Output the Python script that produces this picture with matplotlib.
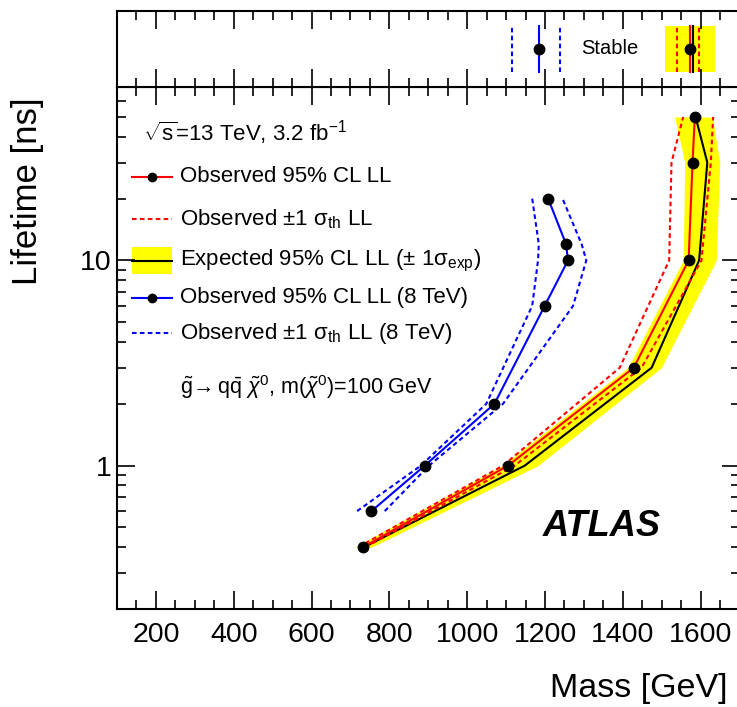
import matplotlib
matplotlib.use('Agg')
import matplotlib.pyplot as plt
from matplotlib.ticker import MultipleLocator, FixedLocator, FixedFormatter, NullFormatter
import numpy as np

plt.rcParams['font.family'] = ['Liberation Sans', 'DejaVu Sans']
plt.rcParams['mathtext.fontset'] = 'custom'
plt.rcParams['mathtext.rm'] = 'Liberation Sans'
plt.rcParams['mathtext.it'] = 'Liberation Sans:italic'
plt.rcParams['mathtext.bf'] = 'Liberation Sans:bold'

# ---- 13 TeV, 3.2 fb-1 ----
life = [0.4, 1, 3, 10, 30, 50]
obs_mass = [732, 1105, 1428, 1569, 1579, 1585]
obs_dn_mass = [720, 1092, 1392, 1519, 1525, 1555]
obs_up_mass = [738, 1122, 1448, 1602, 1626, 1632]
exp_mass = [734, 1148, 1474, 1596, 1617, 1587]
exp_lo_mass = [711, 1090, 1413, 1555, 1559, 1533]
exp_hi_mass = [754, 1182, 1499, 1640, 1649, 1630]

# ---- 8 TeV ----
life8 = [0.6, 1, 2, 6, 10, 12, 20]
obs8_mass = [754, 891, 1070, 1199, 1259, 1254, 1208]
obs8_dn_mass = [717, 881, 1049, 1167, 1182, 1184, 1167]
obs8_up_mass = [788, 902, 1092, 1272, 1306, 1294, 1245]

# ---- stable limits (top panel) ----
stable_obs = 1572
stable_obs_dn = 1539
stable_obs_up = 1596
stable_exp = 1580
stable_exp_lo = 1508
stable_exp_hi = 1636
stable_obs8 = 1185
stable_obs8_dn = 1114
stable_obs8_up = 1238

xticks = [200, 400, 600, 800, 1000, 1200, 1400, 1600]

W, H = 737, 707
fig = plt.figure(figsize=(W / 100, H / 100), dpi=100)

left, right = 117 / W, 739.6 / W
ax = fig.add_axes([left, 1 - 609 / H, right - left, (609 - 87) / H])
axt = fig.add_axes([left, 1 - 87 / H, right - left, (87 - 11) / H])

yellow = '#ffff00'
red = '#ff0000'
blue = '#0000ff'
dash = (0, (2.2, 1.6))
lw = 1.5

# main panel
ax.fill_betweenx(life, exp_lo_mass, exp_hi_mass, color=yellow, lw=0, zorder=1)
ax.plot(exp_mass, life, color='black', lw=lw, zorder=2)
ax.plot(obs_dn_mass, life, color=red, lw=lw, ls=dash, zorder=3)
ax.plot(obs_up_mass, life, color=red, lw=lw, ls=dash, zorder=3)
ax.plot(obs_mass, life, color=red, lw=lw, zorder=4)
ax.plot(obs_mass, life, 'o', color='black', ms=7.5, zorder=5)

ax.plot(obs8_dn_mass, life8, color=blue, lw=lw, ls=dash, zorder=3)
ax.plot(obs8_up_mass, life8, color=blue, lw=lw, ls=dash, zorder=3)
ax.plot(obs8_mass, life8, color=blue, lw=lw, zorder=4)
ax.plot(obs8_mass, life8, 'o', color='black', ms=7.5, zorder=5)

ax.set_xlim(100, 1700)
ax.set_yscale('log')
ax.set_ylim(0.2, 70)

ax.xaxis.set_major_locator(FixedLocator(xticks))
ax.xaxis.set_minor_locator(MultipleLocator(50))
ax.yaxis.set_major_locator(FixedLocator([1, 10]))
ax.yaxis.set_major_formatter(FixedFormatter(['1', '10']))
minors = [v * d for d in (0.1, 1, 10) for v in range(2, 10)]
ax.yaxis.set_minor_locator(FixedLocator(minors))
ax.yaxis.set_minor_formatter(NullFormatter())

ax.tick_params(which='both', direction='in', top=True, right=True, width=1.2)
ax.tick_params(which='major', length=13, labelsize=20.5)
ax.tick_params(which='minor', length=6.5)
ax.tick_params(axis='x', pad=9)
ax.tick_params(axis='y', pad=4)
for s in ax.spines.values():
    s.set_linewidth(1.5)

# top panel (stable)
axt.set_xlim(100, 1700)
axt.set_ylim(0, 1)
axt.axvspan(stable_exp_lo, stable_exp_hi, ymin=0.2, ymax=0.8, color=yellow, lw=0)
axt.axvline(stable_exp, ymin=0.2, ymax=0.8, color='black', lw=lw)
axt.axvline(stable_obs_dn, ymin=0.2, ymax=0.8, color=red, lw=lw, ls=dash)
axt.axvline(stable_obs_up, ymin=0.2, ymax=0.8, color=red, lw=lw, ls=dash)
axt.axvline(stable_obs, ymin=0.2, ymax=0.8, color=red, lw=lw)
axt.plot([stable_obs], [0.5], 'o', color='black', ms=7.5)
axt.axvline(stable_obs8_dn, ymin=0.2, ymax=0.8, color=blue, lw=lw, ls=dash)
axt.axvline(stable_obs8_up, ymin=0.2, ymax=0.8, color=blue, lw=lw, ls=dash)
axt.axvline(stable_obs8, ymin=0.2, ymax=0.8, color=blue, lw=lw)
axt.plot([stable_obs8], [0.5], 'o', color='black', ms=7.5)
axt.text(1366, 0.5, 'Stable', fontsize=14.5, ha='center', va='center')

axt.xaxis.set_major_locator(FixedLocator(xticks))
axt.xaxis.set_minor_locator(MultipleLocator(50))
axt.set_yticks([])
axt.tick_params(which='both', direction='in', top=True, bottom=True,
                labelbottom=False, width=1.2)
axt.tick_params(which='major', length=13)
axt.tick_params(which='minor', length=6.5)
for s in axt.spines.values():
    s.set_linewidth(1.5)

# axis titles
fig.text(727 / W, 1 - 688 / H, 'Mass [GeV]', fontsize=24.5, ha='right', va='center')
fig.text(28 / W, 1 - 97 / H, 'Lifetime [ns]', fontsize=25, rotation=90,
         ha='center', va='top')

# legend drawn by hand in axes coordinates
def fx(px):
    return (px - 117) / (739.6 - 117)

def fy(py):
    return (609 - py) / (609 - 87)

tr = ax.transAxes
lx = [fx(132), fx(172)]
tx = fx(180)
fs = 16

ax.text(fx(143), fy(133), r'$\sqrt{\mathrm{s}}$=13 TeV, 3.2 fb$^{-1}$', transform=tr,
        fontsize=fs, ha='left', va='center')

rows = [177, 219, 261, 298, 333]
ax.plot(lx, [fy(rows[0])] * 2, color=red, lw=lw, transform=tr, clip_on=False)
ax.plot([np.mean(lx)], [fy(rows[0])], 'o', color='black', ms=6, transform=tr)
ax.text(tx, fy(rows[0]), 'Observed 95% CL LL', transform=tr, fontsize=fs, va='center')

ax.plot(lx, [fy(rows[1])] * 2, color=red, lw=lw, ls=dash, transform=tr)
ax.text(tx, fy(rows[1]), r'Observed ±1 σ$_{\mathrm{th}}$ LL', transform=tr,
        fontsize=fs, va='center')

ax.fill_between(lx, fy(274), fy(247), color=yellow, lw=0, transform=tr)
ax.plot(lx, [fy(rows[2])] * 2, color='black', lw=lw, transform=tr)
ax.text(tx, fy(rows[2]), r'Expected 95% CL LL (± 1σ$_{\mathrm{exp}}$)', transform=tr,
        fontsize=fs, va='center')

ax.plot(lx, [fy(rows[3])] * 2, color=blue, lw=lw, transform=tr)
ax.plot([np.mean(lx)], [fy(rows[3])], 'o', color='black', ms=6, transform=tr)
ax.text(tx, fy(rows[3]), 'Observed 95% CL LL (8 TeV)', transform=tr, fontsize=fs,
        va='center')

ax.plot(lx, [fy(rows[4])] * 2, color=blue, lw=lw, ls=dash, transform=tr)
ax.text(tx, fy(rows[4]), r'Observed ±1 σ$_{\mathrm{th}}$ LL (8 TeV)', transform=tr,
        fontsize=fs, va='center')

ax.text(tx, fy(387),
        r'$\tilde{\mathrm{g}}\!\rightarrow$q$\bar{\mathrm{q}}$ $\tilde{\chi}^{0}$, '
        r'm($\tilde{\chi}^{0}$)=100 GeV', transform=tr, fontsize=fs - 0.5, va='center')

ax.text(fx(602), fy(527), 'ATLAS', transform=tr, fontsize=26, fontweight='bold',
        fontstyle='italic', ha='center', va='center')

fig.savefig('out.png', dpi=100)
